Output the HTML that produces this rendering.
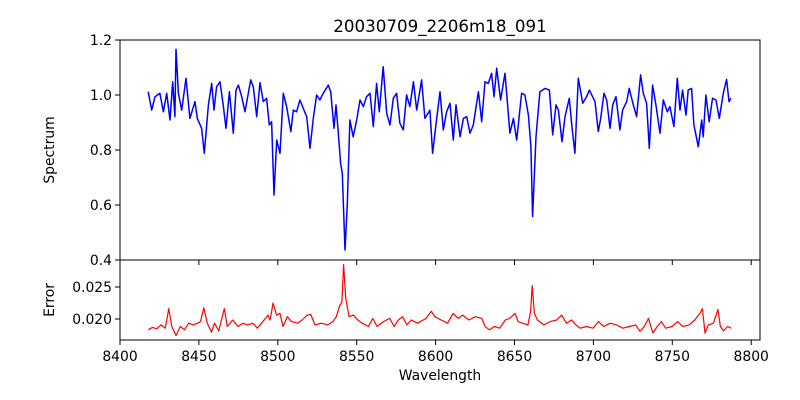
<!DOCTYPE html>
<html><head><meta charset="utf-8"><style>
body{margin:0;background:#fff}
svg{display:block;font-family:"DejaVu Sans","Liberation Sans",sans-serif}
</style></head><body>
<svg id="chart" width="800" height="400" viewBox="0 0 800 400" xmlns="http://www.w3.org/2000/svg">
<rect width="800" height="400" fill="#fff"/>
<text x="440" y="32" font-size="16.7" text-anchor="middle">20030709_2206m18_091</text>
<g id="topg"></g><g id="botg"></g>
<text transform="translate(54,150) rotate(-90)" font-size="13.9" text-anchor="middle">Spectrum</text>
<text transform="translate(54,300) rotate(-90)" font-size="13.9" text-anchor="middle">Error</text>
<text x="440" y="380" font-size="13.9" text-anchor="middle">Wavelength</text>
</svg>
<script>
const specWave=[8417.9,8420.1,8422.2,8425.3,8427.5,8429.6,8431.7,8433.4,8434.8,8435.5,8437.0,8439.1,8441.8,8444.3,8447.5,8449.0,8451.7,8453.4,8456.0,8458.1,8459.6,8461.2,8463.4,8465.5,8467.2,8469.3,8471.8,8473.5,8475.0,8477.1,8479.2,8482.8,8484.5,8486.6,8488.7,8490.8,8492.9,8494.6,8496.1,8497.6,8499.3,8501.4,8503.5,8505.6,8508.3,8509.8,8511.9,8514.0,8516.6,8518.3,8520.4,8522.5,8524.6,8526.7,8528.8,8532.0,8533.5,8535.6,8536.9,8538.3,8539.8,8540.9,8542.6,8544.0,8545.7,8547.8,8550.0,8552.1,8554.2,8556.3,8558.4,8560.5,8562.6,8564.3,8566.8,8569.0,8571.1,8573.2,8575.3,8577.4,8579.5,8581.6,8583.7,8585.9,8588.0,8591.1,8593.2,8596.4,
8598.1,8600.7,8602.8,8604.9,8607.0,8609.1,8611.2,8612.9,8615.5,8617.6,8619.7,8621.8,8623.9,8627.1,8629.2,8631.3,8633.4,8635.5,8637.0,8638.7,8641.2,8644.0,8647.1,8649.3,8651.4,8654.5,8656.6,8658.8,8660.4,8661.5,8663.6,8666.1,8669.3,8672.1,8674.2,8676.3,8677.8,8680.1,8682.0,8684.7,8686.4,8688.3,8690.4,8693.2,8695.7,8697.4,8701.0,8703.1,8704.6,8706.7,8708.4,8710.5,8712.2,8714.3,8716.8,8718.5,8721.1,8722.7,8725.3,8727.4,8729.9,8731.6,8733.7,8735.4,8737.5,8739.6,8742.2,8744.3,8746.8,8748.5,8751.0,8753.2,8754.9,8756.5,8758.7,8760.1,8762.2,8763.7,8766.5,8768.6,8769.6,8771.3,8773.4,8775.5,8777.7,8779.8,8782.3,8784.4,8785.9,8787.2];
const specFlux=[1.012,0.945,0.994,1.006,0.939,1.006,0.909,1.048,0.921,1.166,1.006,0.945,1.061,0.915,0.976,0.915,0.879,0.788,0.964,1.042,0.945,1.030,1.048,0.958,0.879,1.012,0.861,1.018,1.036,0.994,0.939,1.055,1.030,0.921,1.045,0.976,0.988,0.891,0.903,0.636,0.836,0.788,1.006,0.958,0.867,0.945,0.939,0.982,0.945,0.921,0.806,0.915,1.000,0.982,1.006,1.036,1.012,0.879,0.964,0.867,0.752,0.715,0.436,0.594,0.909,0.848,0.909,0.982,0.958,0.994,1.006,0.885,1.042,0.939,1.103,0.933,0.891,0.988,1.006,0.897,0.873,1.000,0.958,1.048,0.945,1.055,0.915,0.945,
0.788,0.915,1.012,0.873,0.939,0.970,0.836,0.964,0.848,0.915,0.921,0.861,0.891,1.012,0.903,1.048,1.042,1.079,0.994,1.097,0.982,1.079,0.861,0.915,0.836,1.006,1.000,0.927,0.812,0.558,0.848,1.012,1.024,1.018,0.855,0.964,0.945,0.830,0.921,0.988,0.885,0.788,1.061,0.970,0.994,1.018,0.976,0.867,0.915,1.006,0.982,0.879,0.964,0.994,0.873,0.945,0.976,1.024,0.964,0.921,1.073,1.006,0.970,0.806,1.036,0.964,0.861,0.982,0.939,0.958,0.885,1.061,0.945,1.018,0.927,1.018,1.024,0.891,0.812,0.909,0.848,1.000,0.903,0.988,0.982,0.915,1.006,1.057,0.976,0.988];
const errWave=[8417.9,8420.6,8423.3,8426.0,8428.7,8430.9,8432.8,8435.5,8438.2,8440.9,8443.6,8446.3,8449.1,8451.0,8453.1,8455.3,8458.0,8459.9,8462.6,8466.1,8468.0,8471.5,8474.8,8478.0,8480.8,8484.3,8487.0,8489.7,8493.8,8495.1,8497.0,8499.2,8501.4,8503.3,8506.0,8508.7,8512.7,8515.4,8518.7,8520.9,8523.6,8527.6,8531.7,8535.0,8537.1,8539.3,8540.6,8541.7,8543.1,8545.2,8547.9,8550.7,8553.4,8557.5,8560.2,8562.9,8566.9,8571.0,8573.7,8576.4,8579.1,8581.8,8584.6,8588.6,8594.0,8597.3,8599.5,8603.5,8607.6,8611.1,8614.4,8617.1,8621.1,8625.2,8629.3,8631.4,8634.1,8637.4,8640.6,8644.2,8646.9,8650.4,8652.3,8655.0,8658.5,8660.2,8661.2,8662.6,8664.5,8668.6,8672.6,8676.7,8679.9,8682.9,8686.2,8688.9,8691.6,8695.7,8699.7,8703.2,8706.5,8710.6,8714.6,8718.7,8722.8,8726.8,8729.5,8732.2,8734.9,8737.7,8740.4,8743.1,8745.8,8749.9,8753.4,8756.6,8760.7,8764.2,8767.5,8769.1,8770.7,8772.9,8776.1,8778.9,8780.5,8782.4,8785.1,8787.3];
const errVal=[.01832,.01868,.01847,.01908,.01857,.02163,.01883,.01740,.01883,.01832,.01934,.01908,.01934,.01959,.02173,.01934,.01796,.01934,.01816,.02163,.01883,.01985,.01883,.01934,.01908,.01934,.01857,.01934,.02061,.01985,.02250,.02061,.02087,.01883,.02036,.01959,.01934,.01985,.02061,.02071,.01908,.01934,.01908,.01959,.02036,.02214,.02265,.02852,.02316,.02036,.02061,.01985,.01934,.01883,.02010,.01883,.01959,.02010,.01883,.01985,.02036,.01908,.01985,.01934,.02010,.02122,.02036,.01985,.01934,.02087,.02010,.02061,.01985,.02036,.02010,.01883,.01832,.01883,.01857,.01985,.02010,.02087,.01959,.01934,.01908,.02112,.02520,.02087,.01985,.01908,.01959,.01985,.02061,.01934,.01985,.01908,.01857,.01883,.01857,.01959,.01883,.01934,.01908,.01857,.01883,.01908,.01806,.01883,.02010,.01781,.01883,.01959,.01857,.01883,.01959,.01883,.01908,.01985,.02087,.02163,.01781,.01908,.01934,.02148,.01883,.01816,.01883,.01857];
const xTicks=[8400,8450,8500,8550,8600,8650,8700,8750,8800];
const specTicks=[0.4,0.6,0.8,1.0,1.2];
const errTicks=[0.020,0.025];

const NS='http://www.w3.org/2000/svg';
const L=120,R=760;
const x=w=>120+(w-8400)*1.578;
const ySpec=v=>260-(v-0.4)*275;
const yErr=v=>319-(v-0.020)*6400;
function mk(tag,attrs,parent){const e=document.createElementNS(NS,tag);for(const k in attrs)e.setAttribute(k,attrs[k]);parent.appendChild(e);return e;}
const topG=document.getElementById('topg'),botG=document.getElementById('botg');

let p=mk('path',{d:specWave.map((w,i)=>(i?'L':'M')+x(w).toFixed(1)+','+ySpec(specFlux[i]).toFixed(1)).join(''),fill:'none',stroke:'#0000ff','stroke-width':1.5,'stroke-linejoin':'round'},topG);


p=mk('path',{d:errWave.map((w,i)=>(i?'L':'M')+x(w).toFixed(1)+','+yErr(errVal[i]).toFixed(1)).join(''),fill:'none',stroke:'#ff0000','stroke-width':1.2,'stroke-linejoin':'round'},botG);



let f=mk('rect',{x:L,y:40,width:R-L,height:220,fill:'none',stroke:'#000','stroke-width':1},topG);


f=mk('rect',{x:L,y:260,width:R-L,height:80,fill:'none',stroke:'#000','stroke-width':1},botG);



specTicks.forEach(v=>{const y=ySpec(v);
 mk('line',{x1:L-5,x2:L,y1:y,y2:y,stroke:'#000'},topG);
 const t=mk('text',{x:L-8,y:y+5,'font-size':13.9,'text-anchor':'end'},topG);t.textContent=v.toFixed(1);
 
 });
errTicks.forEach(v=>{const y=yErr(v);
 mk('line',{x1:L-5,x2:L,y1:y,y2:y,stroke:'#000'},botG);
 const t=mk('text',{x:L-8,y:y+5,'font-size':13.9,'text-anchor':'end'},botG);t.textContent=v.toFixed(3);
 
 });
xTicks.forEach(v=>{const xx=x(v);
 mk('line',{x1:xx,x2:xx,y1:340,y2:345,stroke:'#000'},botG);
 mk('line',{x1:xx,x2:xx,y1:260,y2:265,stroke:'#000'},topG);
 const t=mk('text',{x:xx,y:361,'font-size':13.9,'text-anchor':'middle'},botG);t.textContent=v;
 
 });
</script>
</body></html>
